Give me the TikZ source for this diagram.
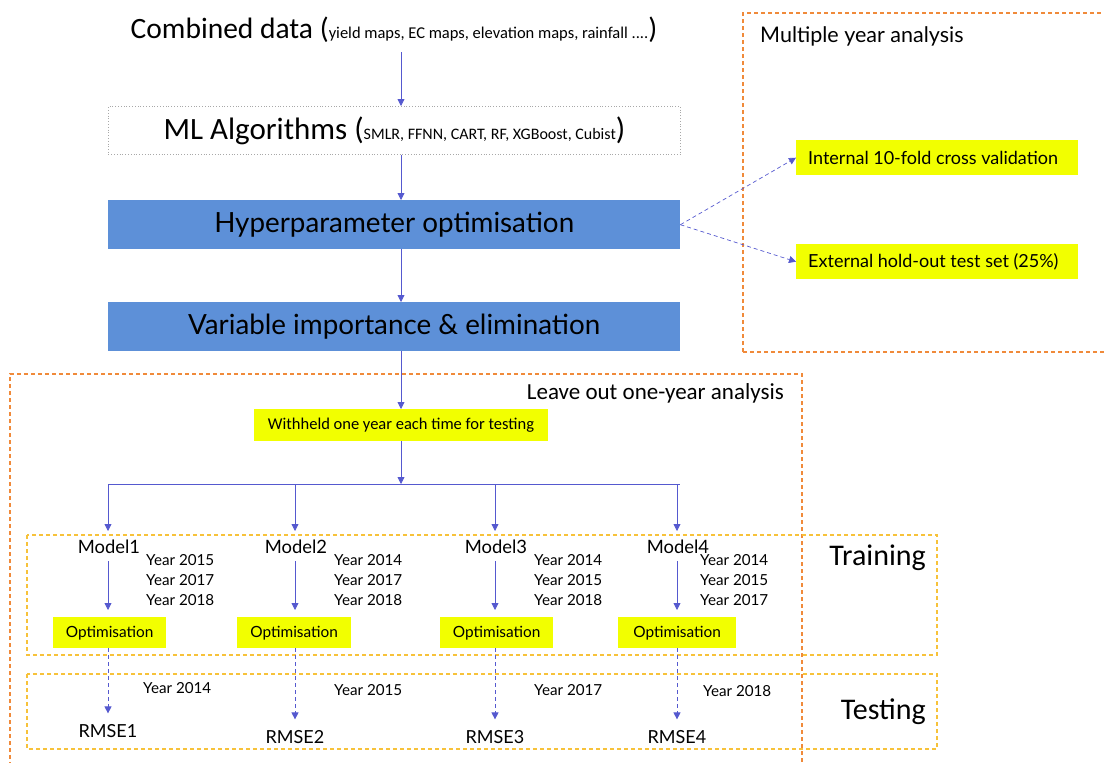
\documentclass[tikz,border=0pt]{standalone}
\usepackage{fontspec}
\setmainfont{Lato}
\newfontfamily\carl{Carlito}
\usetikzlibrary{arrows.meta}

\definecolor{flow}{HTML}{5559CF}
\definecolor{stepblue}{HTML}{5D90D8}
\definecolor{hilite}{HTML}{F2FF00}
\definecolor{grporange}{HTML}{F08A3A}
\definecolor{grpyellow}{HTML}{F7C23A}
\definecolor{dotgray}{HTML}{A8A8A8}

\begin{document}
\begin{tikzpicture}[x=1pt,y=-1pt,
  arr/.style={draw=flow, line width=0.8pt, -{Triangle[length=7pt,width=7pt]}},
  darr/.style={arr, dash pattern=on 4pt off 3pt},
  bluebox/.style={fill=stepblue, draw=none, minimum width=572pt, minimum height=49pt, anchor=north west, font=\fontsize{27.8}{32}\selectfont},
  hibox/.style={fill=hilite, draw=none, inner sep=0pt, anchor=north west},
  grp/.style={draw=grporange, line width=1.05pt, dash pattern=on 4pt off 3pt},
  phase/.style={draw=grpyellow, line width=1.05pt, dash pattern=on 4pt off 3pt},
  mdl/.style={font=\fontsize{18.4}{21}\selectfont},
  yr/.style={font=\fontsize{15.2}{20}\selectfont, align=left, anchor=north west, inner sep=0pt},
  opt/.style={hibox, minimum height=31pt, font=\fontsize{15.4}{18}\selectfont},
  rmse/.style={font=\fontsize{18}{21}\selectfont},
]
\useasboundingbox (0,0) rectangle (1104,763);

% group frames
\draw[grp] (743,352) -- (743,13) -- (1120,13);
\draw[grp] (743,352) -- (1120,352);
\draw[grp] (10,780) -- (10,374) -- (802,374) -- (802,780);
\draw[phase] (27,535) rectangle (937,655);
\draw[phase] (27,674) rectangle (937,749);

% frame titles
\node[anchor=west, inner sep=0pt, font=\fontsize{21.5}{24}\selectfont] (multi) at (760,36) {Multiple year analysis};
\node[anchor=east, inner sep=0pt, font=\carl\fontsize{23}{26}\selectfont] (leave) at (784,393) {Leave out one-year analysis};
\node[anchor=east, inner sep=0pt, font=\carl\fontsize{30}{33}\selectfont] (train) at (926,558) {Training};
\node[anchor=east, inner sep=0pt, font=\carl\fontsize{30}{33}\selectfont] (test) at (926,712) {Testing};

% main pipeline
\node[inner sep=0pt, font=\carl] (data) at (394,30)
  {\fontsize{29.5}{33}\selectfont Combined data (\fontsize{16.5}{19}\selectfont yield maps, EC maps, elevation maps, rainfall ....\fontsize{29.5}{33}\selectfont)};
\node[draw=dotgray, dotted, line width=0.8pt, minimum width=572pt, minimum height=48pt, anchor=north west, font=\carl] (ml) at (108,106)
  {\fontsize{31}{34}\selectfont ML Algorithms (\fontsize{16}{19}\selectfont SMLR, FFNN, CART, RF, XGBoost, Cubist\fontsize{31}{34}\selectfont)};
\node[bluebox] (hyp) at (108,200) {Hyperparameter optimisation};
\node[bluebox] (var) at (108,302) {Variable importance \& elimination};

\draw[arr] (401,52) -- (ml.north -| 401,0);
\draw[arr] (ml.south -| 401,0) -- (hyp.north -| 401,0);
\draw[arr] (hyp.south -| 401,0) -- (var.north -| 401,0);

% multiple-year branch
\node[hibox, minimum width=282pt, minimum height=35pt] (cv) at (796,140) {};
\node[anchor=west, inner sep=0pt, font=\fontsize{18}{21}\selectfont] at (cv.west) [xshift=12pt] {Internal 10-fold cross validation};
\node[hibox, minimum width=282pt, minimum height=35pt] (ho) at (796,244) {};
\node[anchor=west, inner sep=0pt, font=\fontsize{18}{21}\selectfont] at (ho.west) [xshift=12pt] {External hold-out test set (25\%)};
\draw[darr, line width=0.7pt] (hyp.east) -- (cv.west);
\draw[darr, line width=0.7pt] (hyp.east) -- (ho.west);

% leave-one-year-out branch
\node[hibox, minimum width=294pt, minimum height=32pt, anchor=north, font=\carl\fontsize{16.5}{19}\selectfont] (wh) at (401,409) {Withheld one year each time for testing};
\draw[arr] (var.south -| 401,0) -- (wh.north);
\coordinate (split) at (401,484);
\draw[arr] (wh.south) -- (split);
\draw[draw=flow, line width=0.8pt] (108,484) -- (680,484);

% models
\node[mdl] (m1) at (109,547) {Model1};
\node[mdl] (m2) at (296,547) {Model2};
\node[mdl] (m3) at (496,547) {Model3};
\node[mdl] (m4) at (678,547) {Model4};

\foreach \x in {108, 295, 495, 677}
  \draw[arr] (\x,484) -- (\x,531);

\node[yr] (y1) at (146,554) {Year 2015\\Year 2017\\Year 2018};
\node[yr] (y2) at (334,554) {Year 2014\\Year 2017\\Year 2018};
\node[yr] (y3) at (534,554) {Year 2014\\Year 2015\\Year 2018};
\node[yr] (y4) at (700,554) {Year 2014\\Year 2015\\Year 2017};

\node[opt, minimum width=113pt] (o1) at (53,617) {Optimisation};
\node[opt, minimum width=114pt] (o2) at (237,617) {Optimisation};
\node[opt, minimum width=113pt] (o3) at (440,617) {Optimisation};
\node[opt, minimum width=118pt] (o4) at (618,617) {Optimisation};

\draw[arr] (108,561) -- (108,610);
\draw[arr] (295,561) -- (295,610);
\draw[arr] (495,561) -- (495,610);
\draw[arr] (677,561) -- (677,610);

% testing
\node[rmse] (r1) at (108,731) {RMSE1};
\node[rmse] (r2) at (295,737) {RMSE2};
\node[rmse] (r3) at (495,737) {RMSE3};
\node[rmse] (r4) at (677,737) {RMSE4};

\draw[darr] (o1.south -| r1) -- ++(0,65);
\draw[darr] (o2.south -| r2) -- ++(0,71);
\draw[darr] (o3.south -| r3) -- ++(0,71);
\draw[darr] (o4.south -| r4) -- ++(0,71);

\node[yr, anchor=west] (t1) at (143,688) {Year 2014};
\node[yr, anchor=west] (t2) at (334,690) {Year 2015};
\node[yr, anchor=west] (t3) at (534,690) {Year 2017};
\node[yr, anchor=west] (t4) at (703,691) {Year 2018};
\end{tikzpicture}
\end{document}
